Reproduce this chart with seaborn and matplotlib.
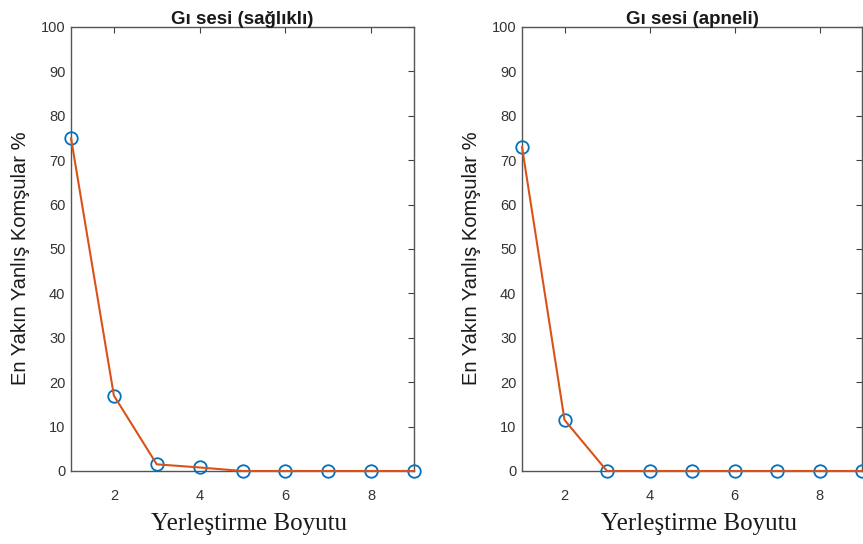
import matplotlib
matplotlib.use("Agg")
import matplotlib.pyplot as plt
import seaborn as sns
import pandas as pd

dims = [1, 2, 3, 4, 5, 6, 7, 8, 9]
healthy = [75, 17, 1.5, 0.8, 0, 0, 0, 0, 0]
apnea = [73, 11.5, 0, 0, 0, 0, 0, 0, 0]
titles = ["Gı sesi (sağlıklı)", "Gı sesi (apneli)"]
ylabel = "En Yakın Yanlış Komşular %"
xlabel = "Yerleştirme Boyutu"
xticks = [2, 4, 6, 8]
yticks = list(range(0, 101, 10))

sns.set_theme(style="white")
plt.rcParams['font.family'] = ['Liberation Sans', 'DejaVu Sans']

fig = plt.figure(figsize=(8.63, 5.44), dpi=100)
positions = [[71/863, 1-471/544, 343/863, 444/544],
             [522/863, 1-471/544, 340/863, 444/544]]
series = [healthy, apnea]

for pos, vals, title in zip(positions, series, titles):
    ax = fig.add_axes(pos)
    df = pd.DataFrame({"dim": dims, "val": vals})
    sns.lineplot(data=df, x="dim", y="val", ax=ax, color="#0072BD",
                 linestyle="", marker="o", markersize=9,
                 markerfacecolor="none", markeredgecolor="#0072BD",
                 markeredgewidth=1.3, clip_on=False, zorder=3)
    sns.lineplot(data=df, x="dim", y="val", ax=ax, color="#D95319",
                 linewidth=1.5, clip_on=False, zorder=4)
    ax.set_xlim(1, 9)
    ax.set_ylim(0, 100)
    ax.set_xticks(xticks)
    ax.set_yticks(yticks)
    ax.tick_params(direction="in", top=True, right=True, length=4,
                   width=0.8, color="#404040", labelsize=10.5,
                   labelcolor="#333333")
    ax.tick_params(axis="y", pad=4)
    ax.tick_params(axis="x", pad=13)
    for s in ax.spines.values():
        s.set_color("#555555")
        s.set_linewidth(1.0)
        s.set_visible(True)
    ax.set_title(title, fontsize=13.5, fontweight="bold", color="#1a1a1a", pad=2)
    ax.set_ylabel(ylabel, fontsize=14.5, color="#1a1a1a")
    ax.yaxis.set_label_coords(-0.12, 0.48)
    ax.set_xlabel(xlabel, fontsize=18, family=["Liberation Serif", "DejaVu Serif"],
                  color="#1a1a1a")
    ax.xaxis.set_label_coords(0.52, -0.12)
    ax.xaxis.label.set_va("center")

fig.savefig("out.png", dpi=100)
